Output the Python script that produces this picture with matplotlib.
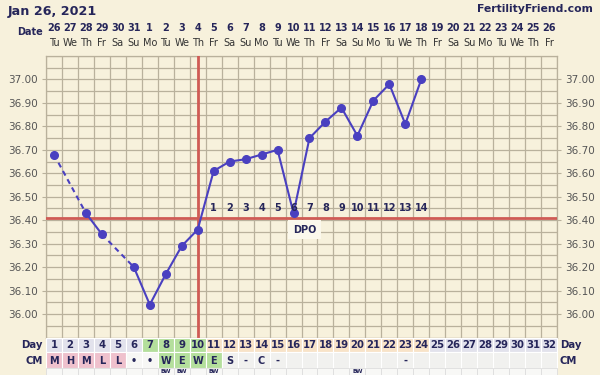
import numpy as np
import matplotlib
matplotlib.use("Agg")
import matplotlib.pyplot as plt
from matplotlib.patches import Rectangle

# ---------------- data ----------------
cycle_days = list(range(1, 25))
temps = [36.68, None, 36.43, 36.34, None, 36.20, 36.04, 36.17, 36.29, 36.36,
         36.61, 36.65, 36.66, 36.68, 36.70, 36.43, 36.75, 36.82, 36.88, 36.76,
         36.91, 36.98, 36.81, 37.00]
coverline = 36.41
ovulation_day = 10
dpo_labels = [str(i) for i in range(1, 15)]
dpo_days = list(range(11, 25))

dates = [26, 27, 28, 29, 30, 31, 1, 2, 3, 4, 5, 6, 7, 8, 9, 10,
         11, 12, 13, 14, 15, 16, 17, 18, 19, 20, 21, 22, 23, 24, 25, 26]
weekdays = ["Tu", "We", "Th", "Fr", "Sa", "Su", "Mo", "Tu", "We", "Th", "Fr", "Sa", "Su", "Mo", "Tu", "We",
            "Th", "Fr", "Sa", "Su", "Mo", "Tu", "We", "Th", "Fr", "Sa", "Su", "Mo", "Tu", "We", "Th", "Fr"]
n_cols = 32
day_phase = ["m"] * 6 + ["f"] * 4 + ["l"] * 14 + ["m"] * 8
cm_values = ["M", "H", "M", "L", "L", "•", "•", "W", "E", "W", "E", "S", "-", "C", "-",
             "", "", "", "", "", "", "", "-", "", "", "", "", "", "", "", "", ""]
cm_phase = ["p"] * 5 + ["w"] * 2 + ["g"] * 4 + ["n"] * 21
bw_days = [8, 9, 11, 20]

# ---------------- styles ----------------
BG = "#f7f1dc"
GRID = "#b9b19c"
NAVY = "#26265a"
LINE = "#4a40c0"
RED = "#cf5b55"
phase_col = {"m": "#e2e2ec", "f": "#b4df9c", "l": "#f8e3c8"}
cm_col = {"p": "#efc1cd", "w": "#f7f7f5", "g": "#b4df9c", "n": "#f1f1ef"}

W, H = 600, 375
fig = plt.figure(figsize=(6, 3.75), dpi=100, facecolor=BG)

def fx(px):
    return px / W

def fy(py):
    return 1 - py / H

L, R, T, B = 46, 557, 56, 337.5
ax = fig.add_axes([fx(L), fy(B), fx(R - L), (B - T) / H])
ax.set_facecolor(BG)
ax.set_xlim(0.5, n_cols + 0.5)
ax.set_ylim(35.9, 37.1)

for x in np.arange(0.5, n_cols + 0.51, 1):
    ax.axvline(x, color=GRID, lw=0.9, zorder=1)
for y in np.arange(35.9, 37.101, 0.05):
    ax.axhline(y, color=GRID, lw=0.9, zorder=1)
for s in ax.spines.values():
    s.set_color(GRID)
    s.set_linewidth(0.9)

yt = np.round(np.arange(36.0, 37.001, 0.1), 2)
ax.set_yticks(yt)
ax.set_yticklabels([f"{v:.2f}" for v in yt])
ax.tick_params(axis="y", left=True, right=True, labelleft=True, labelright=True,
               length=3, color=GRID, labelsize=7.5, labelcolor="#555555", pad=3)
ax.set_xticks([])

# red lines
ax.axhline(coverline, color=RED, lw=2, zorder=3)
ax.axvline(ovulation_day, color=RED, lw=2, zorder=3)

# temperature line
rec = [(d, t) for d, t in zip(cycle_days, temps) if t is not None]
for (d0, t0), (d1, t1) in zip(rec[:-1], rec[1:]):
    ls = "-" if d1 - d0 == 1 else (0, (2.5, 2))
    ax.plot([d0, d1], [t0, t1], color=LINE, lw=1.5, ls=ls, zorder=4)
ax.plot([d for d, _ in rec], [t for _, t in rec], "o", color=LINE, ms=5.5, zorder=5)

# DPO labels
for d, lab in zip(dpo_days, dpo_labels):
    ax.text(d, 36.452, lab, ha="center", va="center", fontsize=7, fontweight="bold",
            color=NAVY, zorder=6)
ax.text(16.7, 36.36, "DPO", ha="center", va="center", fontsize=7, fontweight="bold",
        color=NAVY, zorder=6,
        bbox=dict(boxstyle="square,pad=0.5", fc="#fbf8ec", ec="none"))

# ---------------- header ----------------
fig.text(fx(8), fy(11), "Jan 26, 2021", fontsize=9.2, fontweight="bold", color=NAVY,
         ha="left", va="center")
fig.text(fx(593), fy(9), "FertilityFriend.com", fontsize=7.8, fontweight="bold", color=NAVY,
         ha="right", va="center")
fig.text(fx(43), fy(32), "Date", fontsize=7, fontweight="bold", color=NAVY,
         ha="right", va="center")
col_w = (R - L) / n_cols
for i in range(n_cols):
    cx = L + (i + 0.5) * col_w
    fig.text(fx(cx), fy(28), str(dates[i]), fontsize=7, fontweight="bold", color=NAVY,
             ha="center", va="center")
    fig.text(fx(cx), fy(43.5), weekdays[i], fontsize=7, color="#333333",
             ha="center", va="center")

# ---------------- bottom rows ----------------
bx = fig.add_axes([fx(L), 0, fx(R - L), (H - B) / H])
bx.set_xlim(0.5, n_cols + 0.5)
bx.set_ylim(H, B)
bx.axis("off")
row_day = (B, 352)
row_cm = (352, 368)
row_bw = (368, 390)
for i in range(n_cols):
    d = i + 1
    x0 = d - 0.5
    bx.add_patch(Rectangle((x0, row_day[0]), 1, row_day[1] - row_day[0],
                           fc=phase_col[day_phase[i]], ec="white", lw=0.8, clip_on=False))
    bx.text(d, (row_day[0] + row_day[1]) / 2 + 0.5, str(d), ha="center", va="center",
            fontsize=7.3, fontweight="bold", color=NAVY)
    bx.add_patch(Rectangle((x0, row_cm[0]), 1, row_cm[1] - row_cm[0],
                           fc=cm_col[cm_phase[i]], ec="white", lw=0.8, clip_on=False))
    if cm_values[i]:
        bx.text(d, (row_cm[0] + row_cm[1]) / 2 + 0.5, cm_values[i], ha="center", va="center",
                fontsize=7, fontweight="bold", color=NAVY)
    bx.add_patch(Rectangle((x0, row_bw[0]), 1, row_bw[1] - row_bw[0],
                           fc="#f8f8f6", ec="#dddddd", lw=0.6, clip_on=False))
for d in bw_days:
    bx.text(d, 371.8, "BW", ha="center", va="center", fontsize=4.2, fontweight="bold",
            color=NAVY)

for lab, (y0, y1) in (("Day", row_day), ("CM", row_cm)):
    fig.text(fx(43), fy((y0 + y1) / 2 + 0.5), lab, fontsize=7.3, fontweight="bold", color=NAVY,
             ha="right", va="center")
    fig.text(fx(560), fy((y0 + y1) / 2 + 0.5), lab, fontsize=7.3, fontweight="bold", color=NAVY,
             ha="left", va="center")

fig.savefig("out.png", dpi=100, facecolor=BG)
